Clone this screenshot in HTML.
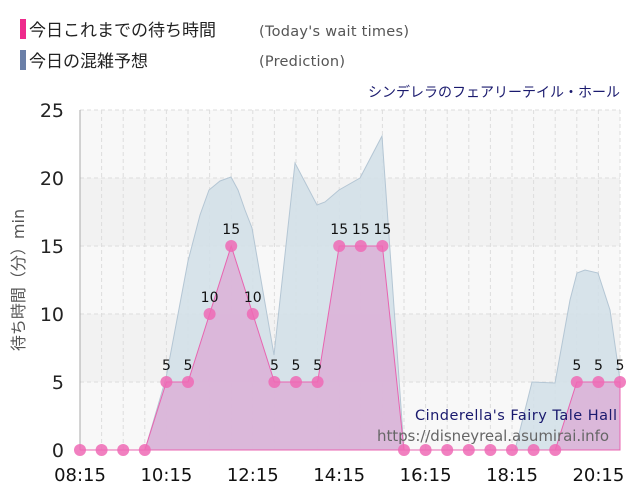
<!DOCTYPE html>
<html><head><meta charset="utf-8"><style>
body{margin:0;background:#fff;width:640px;height:500px;overflow:hidden;font-family:"DejaVu Sans","Noto Sans CJK JP",sans-serif}
</style></head><body>
<svg width="640" height="500" xmlns="http://www.w3.org/2000/svg" font-family="DejaVu Sans, Noto Sans CJK JP, sans-serif">
<rect x="20" y="19" width="6" height="20" fill="#ee2a8c"/>
<text x="29" y="36" font-size="17" fill="#222" font-family="Noto Sans CJK JP, sans-serif">今日これまでの待ち時間</text>
<text x="259" y="36" font-size="14.5" fill="#555" textLength="150">(Today's wait times)</text>
<rect x="20" y="50" width="6" height="20" fill="#6a7fa8"/>
<text x="29" y="67" font-size="17" fill="#222" font-family="Noto Sans CJK JP, sans-serif">今日の混雑予想</text>
<text x="259" y="66" font-size="14.5" fill="#555" textLength="86">(Prediction)</text>
<text x="620" y="97" font-size="14" fill="#1a1a6e" text-anchor="end" font-family="Noto Sans CJK JP, sans-serif">シンデレラのフェアリーテイル・ホール</text>
<rect x="80" y="110" width="540" height="68" fill="#f8f8f8"/>
<rect x="80" y="178" width="540" height="68" fill="#f2f2f2"/>
<rect x="80" y="246" width="540" height="68" fill="#f8f8f8"/>
<rect x="80" y="314" width="540" height="68" fill="#f2f2f2"/>
<rect x="80" y="382" width="540" height="68" fill="#f8f8f8"/>
<g stroke="#ddd" stroke-dasharray="4,3">
<line x1="101.6" y1="110" x2="101.6" y2="450"/><line x1="123.2" y1="110" x2="123.2" y2="450"/><line x1="144.8" y1="110" x2="144.8" y2="450"/><line x1="166.4" y1="110" x2="166.4" y2="450"/><line x1="188" y1="110" x2="188" y2="450"/><line x1="209.6" y1="110" x2="209.6" y2="450"/><line x1="231.2" y1="110" x2="231.2" y2="450"/><line x1="252.8" y1="110" x2="252.8" y2="450"/><line x1="274.4" y1="110" x2="274.4" y2="450"/><line x1="296" y1="110" x2="296" y2="450"/><line x1="317.6" y1="110" x2="317.6" y2="450"/><line x1="339.2" y1="110" x2="339.2" y2="450"/><line x1="360.8" y1="110" x2="360.8" y2="450"/><line x1="382.4" y1="110" x2="382.4" y2="450"/><line x1="404" y1="110" x2="404" y2="450"/><line x1="425.6" y1="110" x2="425.6" y2="450"/><line x1="447.2" y1="110" x2="447.2" y2="450"/><line x1="468.8" y1="110" x2="468.8" y2="450"/><line x1="490.4" y1="110" x2="490.4" y2="450"/><line x1="512" y1="110" x2="512" y2="450"/><line x1="533.6" y1="110" x2="533.6" y2="450"/><line x1="555.2" y1="110" x2="555.2" y2="450"/><line x1="576.8" y1="110" x2="576.8" y2="450"/><line x1="598.4" y1="110" x2="598.4" y2="450"/><line x1="620" y1="110" x2="620" y2="450"/>
<line x1="80" y1="110" x2="620" y2="110"/><line x1="80" y1="178" x2="620" y2="178"/><line x1="80" y1="246" x2="620" y2="246"/><line x1="80" y1="314" x2="620" y2="314"/><line x1="80" y1="382" x2="620" y2="382"/>
</g>
<line x1="80" y1="110" x2="80" y2="450" stroke="#aaa"/>
<path d="M80,450 L145,450 L166,378 L188,261 L200,215 L209,190 L220,181 L231,177 L238,190 L245,210 L252,228 L274,355 L295,163 L317,205 L325,202 L339,190 L360,178 L382,136 L404,450 L515,450 L532,382 L555,383 L570,300 L577,273 L585,270 L598,273 L610,310 L620,380 L620,450 Z" fill="#d3e0e8" fill-opacity="0.9" stroke="#b4c6d4"/>
<path d="M80,450 L101.6,450 L123.2,450 L144.8,450 L166.4,382 L188,382 L209.6,314 L231.2,246 L252.8,314 L274.4,382 L296,382 L317.6,382 L339.2,246 L360.8,246 L382.4,246 L404,450 L425.6,450 L447.2,450 L468.8,450 L490.4,450 L512,450 L533.6,450 L555.2,450 L576.8,382 L598.4,382 L620,382 L620,450 Z" fill="#dcb3d8" fill-opacity="0.9" stroke="#e864b0"/>
<text x="415" y="420" font-size="14.5" fill="#1a1a6e" textLength="202">Cinderella's Fairy Tale Hall</text>
<text x="377" y="441" font-size="15" fill="#666" textLength="232">https://disneyreal.asumirai.info</text>
<g fill="#ee6ab5" fill-opacity="0.85">
<circle cx="80" cy="450" r="6"/><circle cx="101.6" cy="450" r="6"/><circle cx="123.2" cy="450" r="6"/><circle cx="144.8" cy="450" r="6"/><circle cx="166.4" cy="382" r="6"/><circle cx="188" cy="382" r="6"/><circle cx="209.6" cy="314" r="6"/><circle cx="231.2" cy="246" r="6"/><circle cx="252.8" cy="314" r="6"/><circle cx="274.4" cy="382" r="6"/><circle cx="296" cy="382" r="6"/><circle cx="317.6" cy="382" r="6"/><circle cx="339.2" cy="246" r="6"/><circle cx="360.8" cy="246" r="6"/><circle cx="382.4" cy="246" r="6"/><circle cx="404" cy="450" r="6"/><circle cx="425.6" cy="450" r="6"/><circle cx="447.2" cy="450" r="6"/><circle cx="468.8" cy="450" r="6"/><circle cx="490.4" cy="450" r="6"/><circle cx="512" cy="450" r="6"/><circle cx="533.6" cy="450" r="6"/><circle cx="555.2" cy="450" r="6"/><circle cx="576.8" cy="382" r="6"/><circle cx="598.4" cy="382" r="6"/><circle cx="620" cy="382" r="6"/>
</g>
<g font-size="14" fill="#111" text-anchor="middle">
<text x="166.4" y="370">5</text><text x="188" y="370">5</text><text x="209.6" y="302">10</text><text x="231.2" y="234">15</text><text x="252.8" y="302">10</text><text x="274.4" y="370">5</text><text x="296" y="370">5</text><text x="317.6" y="370">5</text><text x="339.2" y="234">15</text><text x="360.8" y="234">15</text><text x="382.4" y="234">15</text><text x="576.8" y="370">5</text><text x="598.4" y="370">5</text><text x="620" y="370">5</text>
</g>
<g font-size="19" fill="#222" text-anchor="end">
<text x="64" y="117">25</text><text x="64" y="185">20</text><text x="64" y="253">15</text><text x="64" y="321">10</text><text x="64" y="389">5</text><text x="64" y="457">0</text>
</g>
<g font-size="18" fill="#111" text-anchor="middle">
<text x="80" y="481">08:15</text><text x="166.4" y="481">10:15</text><text x="252.8" y="481">12:15</text><text x="339.2" y="481">14:15</text><text x="425.6" y="481">16:15</text><text x="512" y="481">18:15</text><text x="598.4" y="481">20:15</text>
</g>
<text transform="translate(24,280) rotate(-90)" font-size="16" fill="#555" text-anchor="middle">待ち時間（分）min</text>
</svg>
</body></html>
